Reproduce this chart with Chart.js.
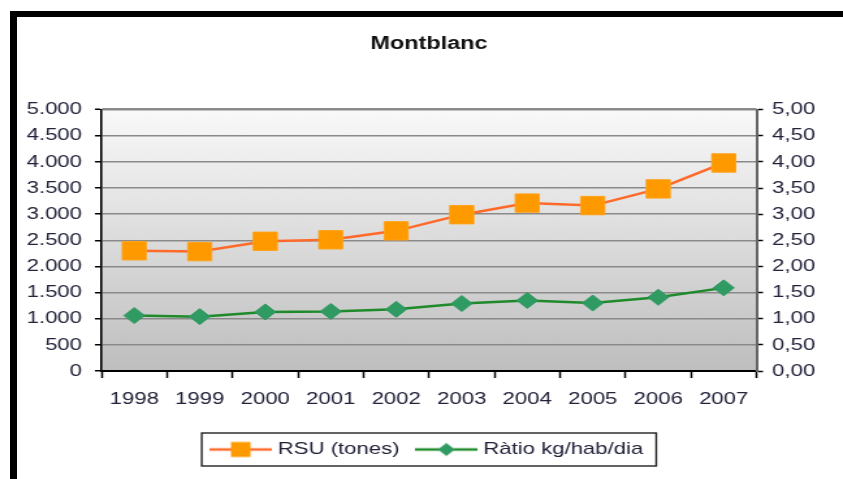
<!DOCTYPE html>
<html>
<head>
<meta charset="utf-8">
<script src="https://cdn.jsdelivr.net/npm/chart.js@4/dist/chart.umd.min.js"></script>
<style>
    html, body { margin: 0; padding: 0; background: #fff; overflow: hidden; }
    #wrap { position: absolute; left: 0; top: 0; width: 648px; height: 479px; transform: scaleX(1.3009); transform-origin: 0 0; }
    #frame { position: absolute; left: 10px; top: 11px; width: 900px; height: 500px; border-top: 6px solid #000; border-left: 7px solid #000; pointer-events: none; }
</style>
</head>
<body>
<div id="wrap"><canvas id="myChart"></canvas></div>
<div id="frame"></div>
<script>
// dades
var years = ['1998', '1999', '2000', '2001', '2002', '2003', '2004', '2005', '2006', '2007'];
var rsuTones = [2300, 2284, 2481, 2510, 2681, 2990, 3212, 3164, 3483, 3979];
var ratioKgHabDia = [1.06, 1.04, 1.13, 1.14, 1.18, 1.29, 1.35, 1.30, 1.41, 1.59];
var leftTickLabels = ['0', '500', '1.000', '1.500', '2.000', '2.500', '3.000', '3.500', '4.000', '4.500', '5.000'];
var rightTickLabels = ['0,00', '0,50', '1,00', '1,50', '2,00', '2,50', '3,00', '3,50', '4,00', '4,50', '5,00'];

var textColor = '#22223a';
Chart.defaults.font.family = '"Liberation Sans", Arial, sans-serif';

// icones de la llegenda (linia + marcador)
function makeIcon(lineColor, markColor, shape) {
    var c = document.createElement('canvas');
    c.width = 48;
    c.height = 18;
    var g = c.getContext('2d');
    g.strokeStyle = lineColor;
    g.lineWidth = 2.5;
    g.beginPath();
    g.moveTo(0, 9);
    g.lineTo(48, 9);
    g.stroke();
    g.fillStyle = markColor;
    if (shape == 'rect') {
        g.fillRect(24 - 7.5, 9 - 7.5, 15, 15);
    } else {
        g.beginPath();
        g.moveTo(24 - 6.5, 9);
        g.lineTo(24, 9 - 6.5);
        g.lineTo(24 + 6.5, 9);
        g.lineTo(24, 9 + 6.5);
        g.closePath();
        g.fill();
    }
    return c;
}
var legendIcons = [makeIcon('#ff6a2a', '#ff9900', 'rect'), makeIcon('#1f8a2a', '#2f9a62', 'diamond')];

// fons degradat i requadre de la llegenda
var decoPlugin = {
    id: 'deco',
    beforeDraw: function (chart) {
        var ctx = chart.ctx, a = chart.chartArea;
        ctx.save();
        ctx.fillStyle = '#fff';
        ctx.fillRect(0, 0, chart.width, chart.height);
        var grad = ctx.createLinearGradient(0, a.top, 0, a.bottom);
        grad.addColorStop(0, '#f9f9f9');
        grad.addColorStop(1, '#bebebe');
        ctx.fillStyle = grad;
        ctx.fillRect(a.left, a.top, a.right - a.left, a.bottom - a.top);
        ctx.restore();
    },
    afterDraw: function (chart) {
        var hb = chart.legend.legendHitBoxes;
        if (!hb || !hb.length) return;
        var last = hb[hb.length - 1];
        var ctx = chart.ctx;
        ctx.save();
        ctx.strokeStyle = '#222';
        ctx.lineWidth = 1.4;
        ctx.strokeRect(hb[0].left - 10, hb[0].top - 8, last.left + last.width + 10 - (hb[0].left - 10), hb[0].height + 16);
        ctx.restore();
    }
};

var ctx = document.getElementById('myChart').getContext('2d');
window.myChart = new Chart(ctx, {
    type: 'line',
    data: {
        labels: years,
        datasets: [{
            label: 'RSU (tones)',
            data: rsuTones,
            yAxisID: 'y',
            borderColor: '#ff6a2a',
            borderWidth: 2.5,
            pointStyle: 'rect',
            pointRadius: 13,
            pointHoverRadius: 13,
            pointBackgroundColor: '#ff9900',
            pointBorderColor: '#ffa31a',
            pointBorderWidth: 1,
            tension: 0
        }, {
            label: 'Ràtio kg/hab/dia',
            data: ratioKgHabDia,
            yAxisID: 'y2',
            borderColor: '#1f8a2a',
            borderWidth: 2.5,
            pointStyle: 'rectRot',
            pointRadius: 8,
            pointHoverRadius: 8,
            pointBackgroundColor: '#2f9a62',
            pointBorderColor: '#2f9a62',
            pointBorderWidth: 1,
            tension: 0
        }]
    },
    options: {
        responsive: true,
        maintainAspectRatio: false,
        animation: false,
        layout: { padding: { left: 14, right: 14, top: 20, bottom: 11 } },
        plugins: {
            title: {
                display: true,
                text: 'Montblanc',
                fullSize: false,
                color: '#111',
                font: { size: 18, weight: 'bold' },
                padding: { top: 13, bottom: 55 }
            },
            legend: {
                position: 'bottom',
                fullSize: false,
                labels: {
                    usePointStyle: true,
                    pointStyleWidth: 40,
                    color: textColor,
                    font: { size: 17 },
                    padding: 16,
                    generateLabels: function (chart) {
                        var items = Chart.defaults.plugins.legend.labels.generateLabels(chart);
                        items.forEach(function (it, i) { it.pointStyle = legendIcons[i]; });
                        return items;
                    }
                }
            },
            tooltip: { enabled: false }
        },
        scales: {
            x: {
                offset: true,
                grid: { offset: true, drawOnChartArea: false, tickLength: 7, tickColor: '#000', tickWidth: 1.5 },
                border: { color: '#000', width: 2 },
                ticks: { color: textColor, font: { size: 17 }, padding: 11, maxRotation: 0 },
                afterFit: function (s) { s.height = 54; }
            },
            y: {
                position: 'left',
                min: 0,
                max: 5000,
                ticks: {
                    stepSize: 500,
                    color: textColor,
                    font: { size: 17 },
                    padding: 10,
                    callback: function (v, i) { return leftTickLabels[i]; }
                },
                grid: {
                    color: '#8a8a8a',
                    lineWidth: function (c) { return c.index == 10 ? 2.5 : 1.5; },
                    tickLength: 5,
                    tickColor: '#000',
                    tickWidth: 1.5
                },
                border: { color: '#000', width: 1.6 },
                afterFit: function (s) { s.width = 64; }
            },
            y2: {
                position: 'right',
                min: 0,
                max: 5,
                ticks: {
                    stepSize: 0.5,
                    color: textColor,
                    font: { size: 17 },
                    padding: 7,
                    callback: function (v, i) { return rightTickLabels[i]; }
                },
                grid: { drawOnChartArea: false, tickLength: 5, tickColor: '#000', tickWidth: 1.5 },
                border: { color: '#666', width: 2 },
                afterFit: function (s) { s.width = 52.5; }
            }
        }
    },
    plugins: [decoPlugin]
});
</script>
</body>
</html>
